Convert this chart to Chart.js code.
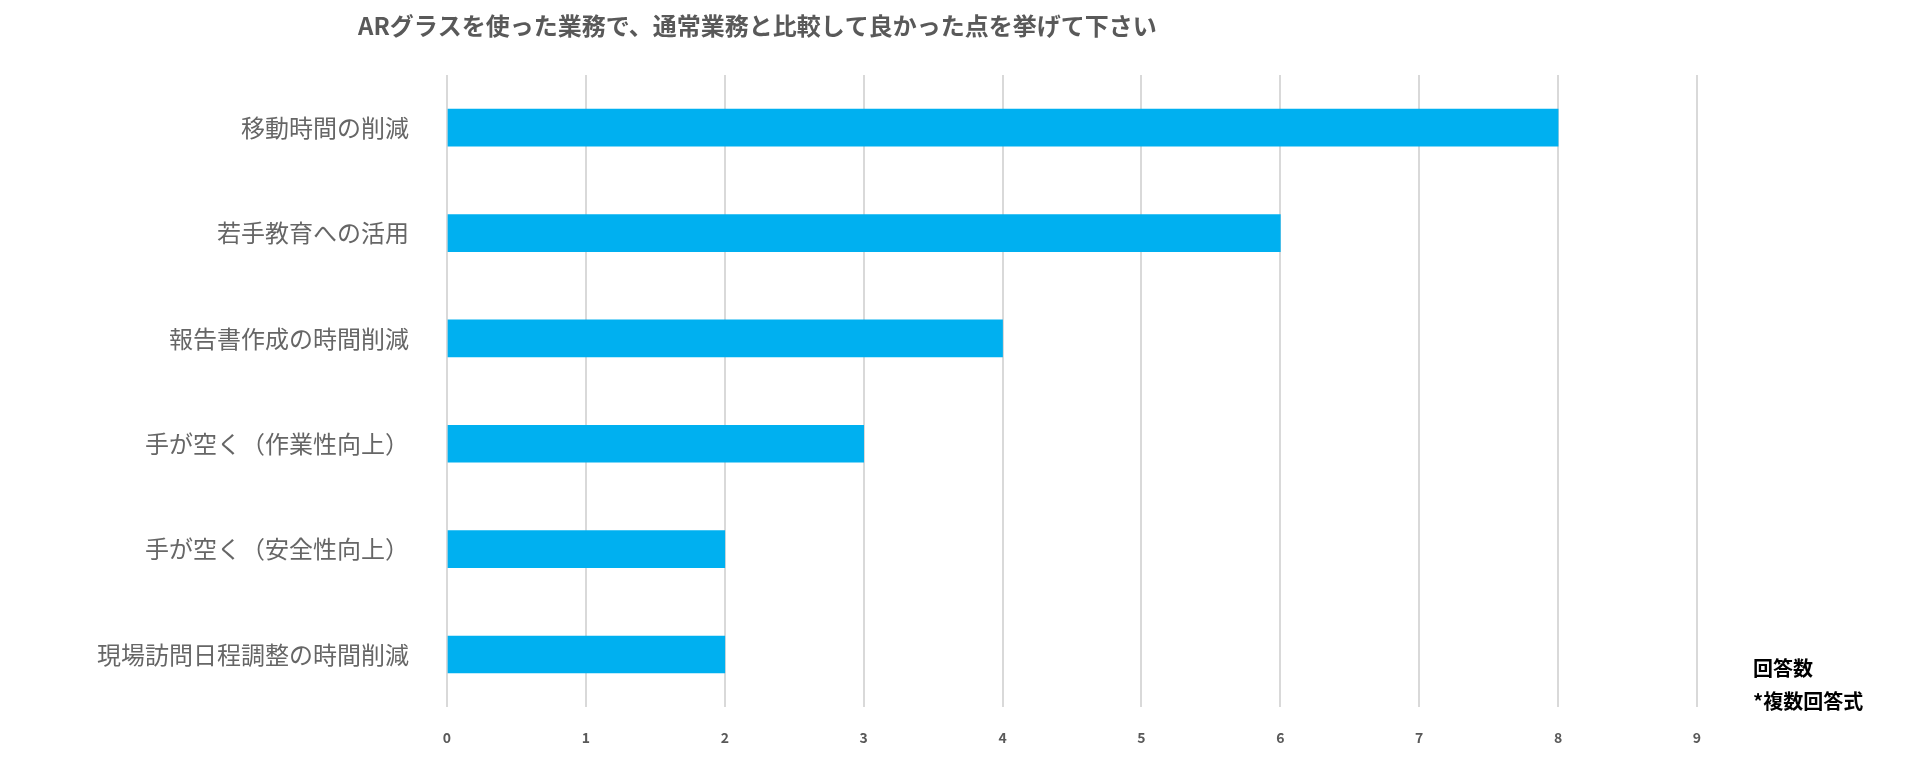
<!DOCTYPE html>
<html><head><meta charset="utf-8">
<script src="https://cdn.jsdelivr.net/npm/chart.js@4"></script>
<style>html,body{margin:0;padding:0;background:#fff}#w{width:1920px;height:768px}</style>
</head><body><div id="w"><canvas id="c"></canvas></div>
<script>
const categories = ["移動時間の削減","若手教育への活用","報告書作成の時間削減","手が空く（作業性向上）","手が空く（安全性向上）","現場訪問日程調整の時間削減"];
const values = [8,6,4,3,2,2];
const titleText = "ARグラスを使った業務で、通常業務と比較して良かった点を挙げて下さい";
const noteLines = ["回答数","*複数回答式"];
const F = "'Noto Sans CJK JP','Noto Sans',sans-serif";
const deco = {id:'deco', afterDraw(ch){const c=ch.ctx;c.save();
 c.font="bold 24px "+F;c.fillStyle="#595959";c.textAlign="left";c.textBaseline="middle";
 c.fillText(titleText,358,26);
 c.font="bold 20px "+F;c.fillStyle="#000";
 c.fillText(noteLines[0],1753,668);c.fillText(noteLines[1],1753,701);c.restore();}};
new Chart(document.getElementById('c'),{type:'bar',
 data:{labels:categories,datasets:[{data:values,backgroundColor:'#00B0F0',barThickness:37}]},
 options:{indexAxis:'y',responsive:true,maintainAspectRatio:false,animation:false,
  layout:{padding:{top:75,right:223,bottom:0,left:0}},
  plugins:{legend:{display:false},tooltip:{enabled:false}},
  scales:{
   x:{min:0,max:9,ticks:{stepSize:1,color:'#595959',font:{family:F,size:14,weight:'bold'},padding:22},
      grid:{color:'#d9d9d9',lineWidth:2,drawTicks:false},border:{display:false}},
   y:{afterFit(s){s.width=447;},ticks:{color:'#666',font:{family:F,size:24},padding:30},
      grid:{display:false},border:{display:false}}
  }}, plugins:[deco]});
</script></body></html>
